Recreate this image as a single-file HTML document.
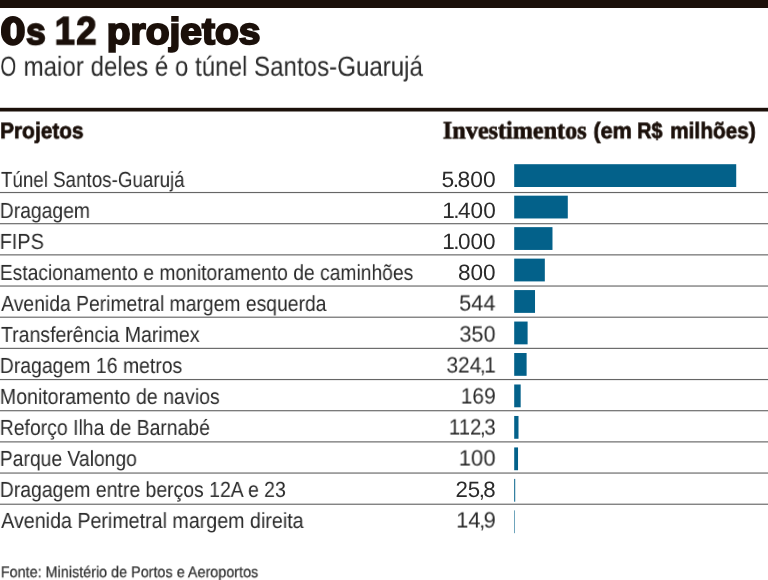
<!DOCTYPE html>
<html><head><meta charset="utf-8"><title>Os 12 projetos</title>
<style>
html,body{margin:0;padding:0;background:#fff;}
body{width:768px;height:580px;position:relative;overflow:hidden;font-family:"Liberation Sans",sans-serif;color:#2a2a2a;}
.t{position:absolute;white-space:nowrap;line-height:1;transform-origin:0 0;text-rendering:geometricPrecision;}
#wrap{position:absolute;left:0;top:0;width:768px;height:580px;will-change:transform;}
svg{position:absolute;left:0;top:0;}
.t i{font-style:normal;margin:0 -0.07em;}
.r{transform-origin:100% 0;}
.sans{font-family:"Liberation Sans",sans-serif;}
.serif{font-family:"Liberation Serif",serif;}
</style></head><body>
<div id="wrap">
<svg width="768" height="580" viewBox="0 0 768 580"><rect x="0" y="0" width="768" height="8" fill="#1b100a"/><rect x="0" y="107.8" width="768" height="3.7" fill="#1b100a"/><rect x="514.20" y="164.20" width="222.02" height="22.80" fill="#03618a"/><rect x="0" y="191.95" width="768" height="1.15" fill="#666666"/><rect x="514.20" y="195.67" width="53.59" height="22.80" fill="#03618a"/><rect x="0" y="223.12" width="768" height="1.15" fill="#666666"/><rect x="514.20" y="227.14" width="38.28" height="22.80" fill="#03618a"/><rect x="0" y="254.29" width="768" height="1.15" fill="#666666"/><rect x="514.20" y="258.61" width="30.62" height="22.80" fill="#03618a"/><rect x="0" y="285.46" width="768" height="1.15" fill="#666666"/><rect x="514.20" y="290.08" width="20.82" height="22.80" fill="#03618a"/><rect x="0" y="316.63" width="768" height="1.15" fill="#666666"/><rect x="514.20" y="321.55" width="13.40" height="22.80" fill="#03618a"/><rect x="0" y="347.80" width="768" height="1.15" fill="#666666"/><rect x="514.20" y="353.02" width="12.41" height="22.80" fill="#03618a"/><rect x="0" y="378.97" width="768" height="1.15" fill="#666666"/><rect x="514.20" y="384.49" width="6.47" height="22.80" fill="#03618a"/><rect x="0" y="410.14" width="768" height="1.15" fill="#666666"/><rect x="514.20" y="415.96" width="4.30" height="22.80" fill="#03618a"/><rect x="0" y="441.31" width="768" height="1.15" fill="#666666"/><rect x="514.20" y="447.43" width="3.83" height="22.80" fill="#03618a"/><rect x="0" y="472.48" width="768" height="1.15" fill="#666666"/><rect x="514.20" y="478.90" width="0.99" height="22.80" fill="#03618a"/><rect x="0" y="503.65" width="768" height="1.15" fill="#666666"/><rect x="514.20" y="510.37" width="0.57" height="22.80" fill="#03618a"/><rect x="1" y="16" width="23.8" height="29.7" rx="11.9" ry="13.5" fill="#1b100a"/><rect x="10.4" y="22.5" width="6.3" height="16.7" rx="3.15" ry="5.5" fill="#fff"/></svg>
<span id="t1" class="t sans" style="left:26px;top:13px;font-size:37.40px;transform:translate3d(0.10px,0.24px,0) scaleX(0.9359);font-weight:bold;color:#1b100a;-webkit-text-stroke:1.5px #1b100a;-webkit-text-stroke-width:2.0px;">s</span>
<span id="t2" class="t sans" style="left:54px;top:12px;font-size:39.30px;transform:translate3d(0.66px,0.23px,0) scaleX(0.9269);font-weight:bold;color:#1b100a;-webkit-text-stroke:1.5px #1b100a;letter-spacing:1.3px;">12</span>
<span id="t3" class="t sans" style="left:106px;top:13px;font-size:37.40px;transform:translate3d(0.73px,0.24px,0) scaleX(1.0418);font-weight:bold;color:#1b100a;-webkit-text-stroke:1.5px #1b100a;-webkit-text-stroke-width:2.0px;">projetos</span>
<span id="sub0" class="t sans" style="left:0px;top:52px;font-size:27.60px;transform:translate3d(0.24px,0.74px,0) scaleX(0.7484);">O</span>
<span id="sub" class="t sans" style="left:23px;top:52px;font-size:27.60px;transform:translate3d(0.55px,0.74px,0) scaleX(0.8737);">maior deles é o túnel Santos-Guarujá</span>
<span id="h1" class="t sans" style="left:0px;top:120px;font-size:22.60px;transform:translate3d(0.12px,0.37px,0) scaleX(0.9236);font-weight:bold;color:#1b100a;-webkit-text-stroke:0.7px #1b100a;">Projetos</span>
<span id="h2a" class="t serif" style="left:442px;top:118px;font-size:25.00px;transform:translate3d(0.82px,0.56px,0) scaleX(0.9668);font-weight:bold;color:#1b100a;-webkit-text-stroke:0.7px #1b100a;">Investimentos</span>
<span id="h2b" class="t sans" style="left:593px;top:120px;font-size:22.60px;transform:translate3d(0.36px,0.37px,0) scaleX(0.9607);font-weight:bold;color:#1b100a;-webkit-text-stroke:0.7px #1b100a;">(em</span>
<span id="h2c" class="t sans" style="left:637px;top:120px;font-size:22.60px;transform:translate3d(0.30px,0.37px,0) scaleX(0.8727);font-weight:bold;color:#1b100a;-webkit-text-stroke:0.7px #1b100a;">R$</span>
<span id="h2d" class="t sans" style="left:670px;top:120px;font-size:22.60px;transform:translate3d(0.22px,0.37px,0) scaleX(0.9198);font-weight:bold;color:#1b100a;-webkit-text-stroke:0.7px #1b100a;">milhões)</span>
<span id="l0" class="t sans" style="left:0px;top:168px;font-size:21.80px;transform:translate3d(0.96px,0.90px,0) scaleX(0.8612);">Túnel Santos-Guarujá</span>
<span id="n0" class="t sans r" style="right:272px;top:168px;font-size:22.20px;transform:translate3d(-0.81px,0.56px,0) scaleX(1.0301);">5<i>.</i>800</span>
<span id="l1" class="t sans" style="left:-1px;top:199px;font-size:21.80px;transform:translate3d(0.80px,0.90px,0) scaleX(0.8866);">Dragagem</span>
<span id="n1" class="t sans r" style="right:272px;top:199px;font-size:22.20px;transform:translate3d(-0.71px,0.56px,0) scaleX(1.0176);">1<i>.</i>400</span>
<span id="l2" class="t sans" style="left:-1px;top:230px;font-size:21.80px;transform:translate3d(0.73px,0.90px,0) scaleX(0.9108);">FIPS</span>
<span id="n2" class="t sans r" style="right:272px;top:230px;font-size:22.20px;transform:translate3d(-0.90px,0.56px,0) scaleX(1.0170);">1<i>.</i>000</span>
<span id="l3" class="t sans" style="left:-1px;top:261px;font-size:21.80px;transform:translate3d(0.79px,0.90px,0) scaleX(0.8840);">Estacionamento e monitoramento de caminhões</span>
<span id="n3" class="t sans r" style="right:272px;top:261px;font-size:22.20px;transform:translate3d(-0.41px,0.56px,0) scaleX(1.0186);">800</span>
<span id="l4" class="t sans" style="left:1px;top:292px;font-size:21.80px;transform:translate3d(0.15px,0.90px,0) scaleX(0.8872);">Avenida Perimetral margem esquerda</span>
<span id="n4" class="t sans r" style="right:272px;top:292px;font-size:22.20px;transform:translate3d(-0.59px,0.56px,0) scaleX(0.9803);">544</span>
<span id="l5" class="t sans" style="left:0px;top:323px;font-size:21.80px;transform:translate3d(0.95px,0.90px,0) scaleX(0.8940);">Transferência Marimex</span>
<span id="n5" class="t sans r" style="right:272px;top:323px;font-size:22.20px;transform:translate3d(-0.54px,0.56px,0) scaleX(0.9729);">350</span>
<span id="l6" class="t sans" style="left:-1px;top:354px;font-size:21.80px;transform:translate3d(0.80px,0.90px,0) scaleX(0.8910);">Dragagem 16 metros</span>
<span id="n6" class="t sans r" style="right:272px;top:354px;font-size:22.20px;transform:translate3d(-0.57px,0.56px,0) scaleX(0.9424);">324<i>,</i>1</span>
<span id="l7" class="t sans" style="left:-1px;top:385px;font-size:21.80px;transform:translate3d(0.78px,0.90px,0) scaleX(0.8991);">Monitoramento de navios</span>
<span id="n7" class="t sans r" style="right:272px;top:385px;font-size:22.20px;transform:translate3d(-0.37px,0.56px,0) scaleX(0.9419);">169</span>
<span id="l8" class="t sans" style="left:-1px;top:416px;font-size:21.80px;transform:translate3d(0.76px,0.90px,0) scaleX(0.8892);">Reforço Ilha de Barnabé</span>
<span id="n8" class="t sans r" style="right:272px;top:416px;font-size:22.20px;transform:translate3d(-0.20px,0.56px,0) scaleX(0.9207);">112<i>,</i>3</span>
<span id="l9" class="t sans" style="left:-1px;top:447px;font-size:21.80px;transform:translate3d(0.80px,0.90px,0) scaleX(0.8863);">Parque Valongo</span>
<span id="n9" class="t sans r" style="right:272px;top:447px;font-size:22.20px;transform:translate3d(-0.49px,0.56px,0) scaleX(0.9948);">100</span>
<span id="l10" class="t sans" style="left:-1px;top:478px;font-size:21.80px;transform:translate3d(0.78px,0.90px,0) scaleX(0.8908);">Dragagem entre berços 12A e 23</span>
<span id="n10" class="t sans r" style="right:272px;top:478px;font-size:22.20px;transform:translate3d(-0.41px,0.56px,0) scaleX(1.0034);">25<i>,</i>8</span>
<span id="l11" class="t sans" style="left:1px;top:509px;font-size:21.80px;transform:translate3d(0.15px,0.90px,0) scaleX(0.9023);">Avenida Perimetral margem direita</span>
<span id="n11" class="t sans r" style="right:272px;top:509px;font-size:22.20px;transform:translate3d(-0.35px,0.56px,0) scaleX(0.9876);">14<i>,</i>9</span>
<span id="src" class="t sans" style="left:0px;top:565px;font-size:15.60px;transform:translate3d(0.80px,0.19px,0) scaleX(0.9224);color:#333;-webkit-text-stroke:0.25px #333;">Fonte: Ministério de Portos e Aeroportos</span>
</div>
</body></html>
